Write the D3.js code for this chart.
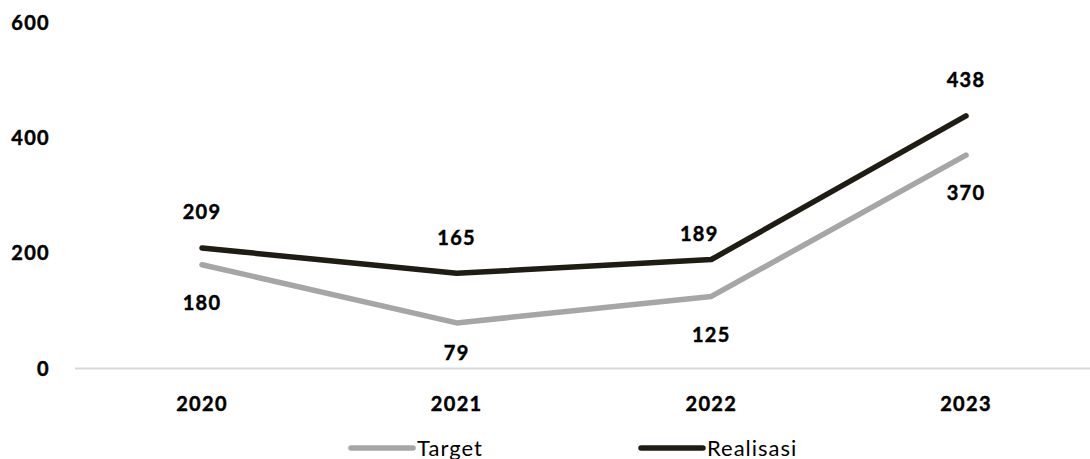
<!DOCTYPE html>
<html><head><meta charset="utf-8">
<script src="https://cdn.jsdelivr.net/npm/d3@7"></script>
<style>
html,body{margin:0;padding:0;background:#fff;}
svg{display:block;}
text{font-family:Lato,"Open Sans",sans-serif;fill:#000;}
text.b{font-weight:700;stroke:#000;stroke-width:0.45px;}
</style></head>
<body>
<svg id="chart" width="1090" height="459"></svg>
<script>
const years = ["2020", "2021", "2022", "2023"];
const target = [180, 79, 125, 370];
const realisasi = [209, 165, 189, 438];
const yTicks = [0, 200, 400, 600];
const seriesNames = ["Target", "Realisasi"];
const seriesColors = ["#a6a6a6", "#1f1c13"];

const svg = d3.select("#chart");
const x = d3.scalePoint().domain(years).range([202, 966]);
const y = d3.scaleLinear().domain([0, 600]).range([368.5, 22.5]);
const FS = 20, LS = 1.3;

// axis baseline
svg.append("line").attr("x1", 75).attr("x2", 1090).attr("y1", y(0)).attr("y2", y(0))
  .attr("stroke", "#d9d9d9").attr("stroke-width", 2);

// y tick labels
svg.append("g").selectAll("text").data(yTicks).join("text").attr("class", "b")
  .attr("x", 50).attr("y", d => y(d)).attr("dy", "0.36em")
  .attr("text-anchor", "end").attr("font-size", FS).attr("letter-spacing", LS)
  .text(d => d);

// x tick labels
svg.append("g").selectAll("text").data(years).join("text").attr("class", "b")
  .attr("x", d => x(d)).attr("y", 403.5).attr("dy", "0.36em")
  .attr("text-anchor", "middle").attr("font-size", FS).attr("letter-spacing", LS)
  .text(d => d);

const line = d3.line().x((d, i) => x(years[i])).y(d => y(d));
[target, realisasi].forEach((s, k) => {
  svg.append("path").datum(s).attr("d", line).attr("fill", "none")
    .attr("stroke", seriesColors[k]).attr("stroke-width", 5.5)
    .attr("stroke-linejoin", "round").attr("stroke-linecap", "round");
});

// data labels: realisasi above, target below
const labelNudgeR = [[0, 0], [0, 0], [-12, 10], [0, 0]];
const labelNudgeT = [[0, 0], [0, -8], [0, 0], [0, 0]];
svg.append("g").selectAll("text").data(realisasi).join("text").attr("class", "b")
  .attr("x", (d, i) => x(years[i]) + labelNudgeR[i][0])
  .attr("y", (d, i) => y(d) - 36 + labelNudgeR[i][1]).attr("dy", "0.36em")
  .attr("text-anchor", "middle").attr("font-size", FS).attr("letter-spacing", LS)
  .text(d => d);
svg.append("g").selectAll("text").data(target).join("text").attr("class", "b")
  .attr("x", (d, i) => x(years[i]) + labelNudgeT[i][0])
  .attr("y", (d, i) => y(d) + 38 + labelNudgeT[i][1]).attr("dy", "0.36em")
  .attr("text-anchor", "middle").attr("font-size", FS).attr("letter-spacing", LS)
  .text(d => d);

// legend
const legendX = [351, 641];
const lg = svg.append("g").selectAll("g").data(seriesNames).join("g")
  .attr("transform", (d, i) => `translate(${legendX[i]},448)`);
lg.append("line").attr("x1", 0).attr("x2", 62).attr("y1", 0).attr("y2", 0)
  .attr("stroke", (d, i) => seriesColors[i]).attr("stroke-width", 5.5).attr("stroke-linecap", "round");
lg.append("text").attr("x", 66).attr("y", 0).attr("dy", "0.38em")
  .attr("font-size", 22).attr("letter-spacing", 1).text(d => d);
</script>
</body></html>
